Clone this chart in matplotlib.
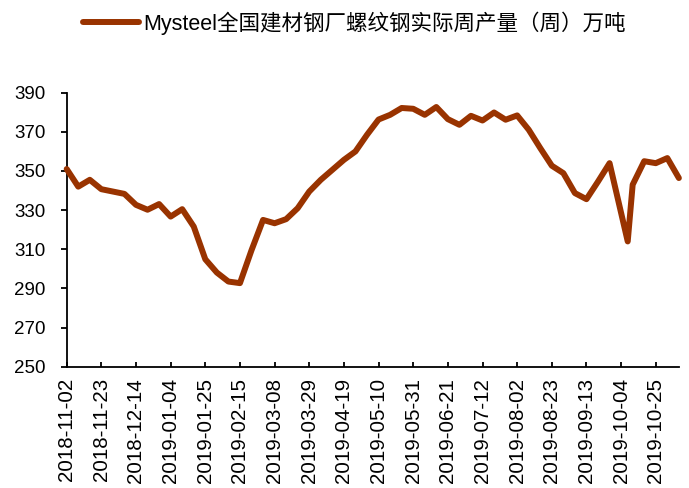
import matplotlib
matplotlib.use('Agg')
import matplotlib.pyplot as plt
import matplotlib.dates as mdates
import pandas as pd

# weekly output
dates = ['2018-11-02', '2018-11-09', '2018-11-16', '2018-11-23', '2018-11-30',
         '2018-12-07', '2018-12-14', '2018-12-21', '2018-12-28', '2019-01-04',
         '2019-01-11', '2019-01-18', '2019-01-25', '2019-02-01', '2019-02-08',
         '2019-02-15', '2019-02-22', '2019-03-01', '2019-03-08', '2019-03-15',
         '2019-03-22', '2019-03-29', '2019-04-05', '2019-04-12', '2019-04-19',
         '2019-04-26', '2019-05-03', '2019-05-10', '2019-05-17', '2019-05-24',
         '2019-05-31', '2019-06-07', '2019-06-14', '2019-06-21', '2019-06-28',
         '2019-07-05', '2019-07-12', '2019-07-19', '2019-07-26', '2019-08-02',
         '2019-08-09', '2019-08-16', '2019-08-23', '2019-08-30', '2019-09-06',
         '2019-09-13', '2019-09-20', '2019-09-27', '2019-10-08', '2019-10-11',
         '2019-10-18', '2019-10-25', '2019-11-01', '2019-11-08']
output = [351.0, 342.0, 345.5, 340.7, 339.5,
          338.3, 332.7, 330.2, 333.1, 326.7,
          330.5, 321.6, 304.9, 298.1, 293.5,
          292.7, 309.5, 325.0, 323.3, 325.4,
          331.0, 339.5, 345.5, 350.6, 355.7,
          360.0, 368.5, 376.3, 378.7, 382.2,
          381.8, 378.7, 382.7, 376.5, 373.6,
          378.2, 375.8, 379.9, 376.2, 378.4,
          371.1, 361.7, 352.7, 348.9, 338.7,
          335.6, 344.6, 354.0, 314.0, 343.0,
          355.0, 354.0, 356.6, 346.4]
tick_dates = pd.date_range('2018-11-02', '2019-10-25', freq='21D')
y_ticks = list(range(250, 391, 20))
label = 'Mysteel全国建材钢厂螺纹钢实际周产量（周）万吨'

plt.rcParams['font.family'] = ['Liberation Sans', 'Noto Sans CJK SC', 'DejaVu Sans']

x = pd.to_datetime(dates)

fig = plt.figure(figsize=(6.89, 4.88), dpi=100)
ax = fig.add_axes([0.0968, 0.2486, 0.9853 - 0.0968, 0.81 - 0.2486])

ax.plot(x, output, color='#993300', linewidth=4.3, label=label,
        solid_capstyle='round', solid_joinstyle='round', clip_on=False, zorder=3)

ax.set_xlim(x[0], x[-1])
ax.set_ylim(250, 390)
ax.set_yticks(y_ticks)
ax.set_xticks(tick_dates)
ax.xaxis.set_major_formatter(mdates.DateFormatter('%Y-%m-%d'))

for side in ['top', 'right']:
    ax.spines[side].set_visible(False)
for side in ['left', 'bottom']:
    ax.spines[side].set_linewidth(1.3)

ax.tick_params(axis='y', direction='out', length=4, width=1.3, pad=11, labelsize=13.5)
ax.tick_params(axis='x', direction='in', length=3.5, width=1.3, pad=8, labelsize=14.8,
               labelrotation=90)

fig.legend(loc='center', bbox_to_anchor=(0.515, 0.953), frameon=False,
           fontsize=15.5, handlelength=2.6, handletextpad=0.2)

fig.savefig('out.png', dpi=100)
